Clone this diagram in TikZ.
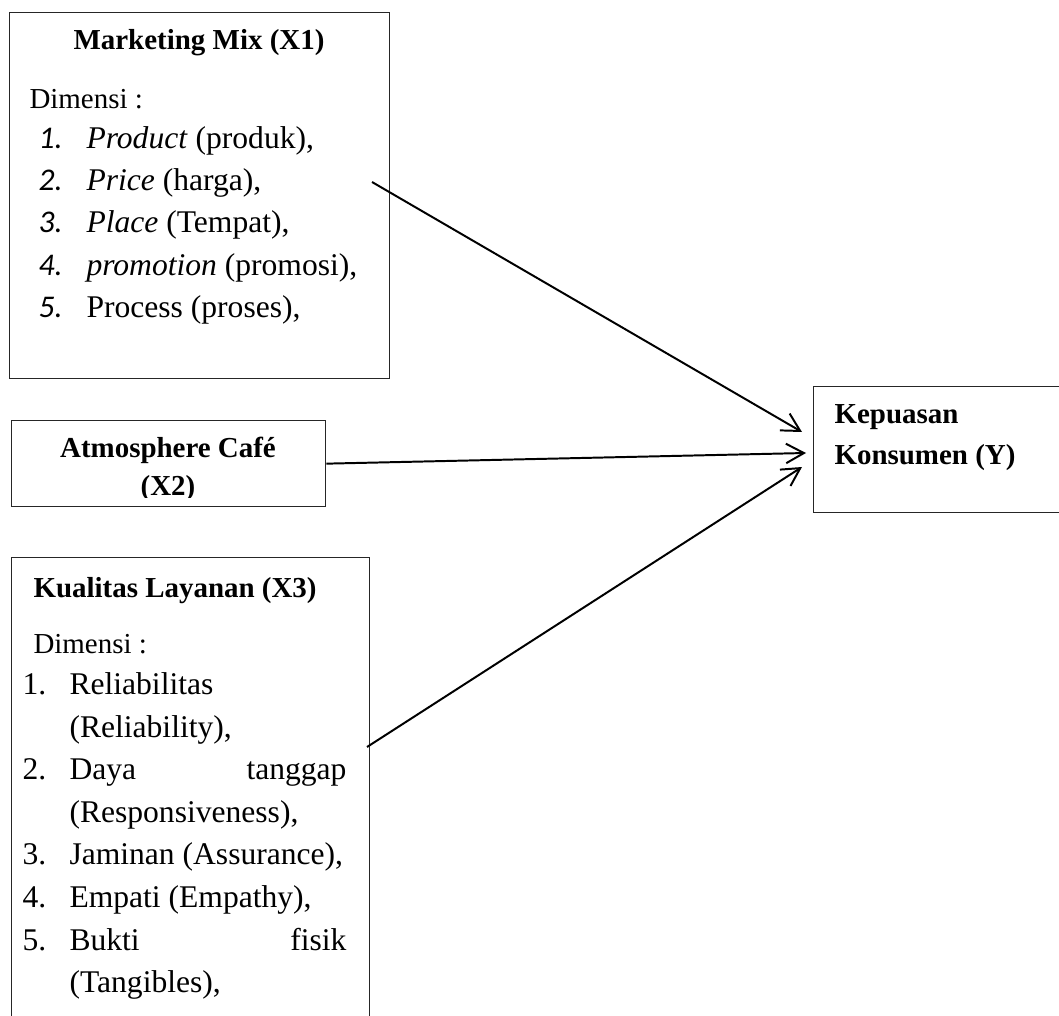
\documentclass[tikz,border=0pt]{standalone}
\usepackage{fontspec}
\setmainfont{Liberation Serif}
\newfontfamily\numfont{Carlito}
\usetikzlibrary{arrows.meta}

\tikzset{
  box/.style={draw=black!85,line width=0.5pt,anchor=north west,inner sep=0pt},
  ttl/.style={inner sep=0pt,font=\fontsize{11}{13}\selectfont\bfseries},
  txt/.style={inner sep=0pt,font=\fontsize{12}{14}\selectfont},
  dim/.style={inner sep=0pt,font=\fontsize{11}{13}\selectfont},
  arr/.style={line width=0.75pt,-{Straight Barb[length=6.8pt,width=7.4pt]}}
}

\begin{document}
\begin{tikzpicture}[x=0.38pt,y=0.38pt,yscale=-1]
\useasboundingbox (0,0) rectangle (1059,1016);

%Shape: Rectangle
\node [box,minimum width=144.4pt,minimum height=139.08pt] (mm) at (9,12) {};
%Shape: Rectangle
\node [box,minimum width=119.32pt,minimum height=32.68pt] (atmo) at (11,420) {};
%Shape: Rectangle
\node [box,minimum width=136.04pt,minimum height=179.74pt] (ku) at (11,557) {};
%Shape: Rectangle
\node [box,minimum width=97.66pt,minimum height=47.88pt] (kp) at (813,386) {};

% Text Node
\node [ttl,anchor=base] (mmT) at (199,50) {Marketing Mix (X1)};
% Text Node
\node [dim,anchor=base west] (mmD) at (29,109) {Dimensi :};
% Text Node
\node [txt,anchor=base west] (mmN1) at (38,149) {\numfont\itshape 1.};
\node [txt,anchor=base west] (mm1) at (86,149) {\textit{Product} (produk),};
% Text Node
\node [txt,anchor=base west] (mmN2) at (38,191) {\numfont\itshape 2.};
\node [txt,anchor=base west] (mm2) at (86,191) {\textit{Price} (harga),};
% Text Node
\node [txt,anchor=base west] (mmN3) at (38,233) {\numfont\itshape 3.};
\node [txt,anchor=base west] (mm3) at (86,233) {\textit{Place} (Tempat),};
% Text Node
\node [txt,anchor=base west] (mmN4) at (38,276) {\numfont\itshape 4.};
\node [txt,anchor=base west] (mm4) at (86,276) {\textit{promotion} (promosi),};
% Text Node
\node [txt,anchor=base west] (mmN5) at (38,318) {\numfont\itshape 5.};
\node [txt,anchor=base west] (mm5) at (86,318) {Process (proses),};

% Text Node
\begin{scope}
\clip (11,420) rectangle (325,497);
\node [ttl,anchor=base] (atT1) at (168,458) {Atmosphere Café};
\node [ttl,anchor=base] (atT2) at (168,495) {(X2)};
\end{scope}

% Text Node
\node [ttl,anchor=base west] (kuT) at (33,597) {Kualitas Layanan (X3)};
% Text Node
\node [dim,anchor=base west] (kuD) at (33,653) {Dimensi :};
% Text Node
\node [txt,anchor=base west] (kuN1) at (22,694) {1.};
\node [txt,anchor=base west] (ku1) at (69,694) {Reliabilitas};
\node [txt,anchor=base west] (ku1b) at (69,737) {(Reliability),};
% Text Node
\node [txt,anchor=base west] (kuN2) at (22,779) {2.};
\node [txt,anchor=base west] (ku2) at (69,779) {Daya};
\node [txt,anchor=base east] (ku2r) at (347,779) {tanggap};
\node [txt,anchor=base west] (ku2b) at (69,822) {(Responsiveness),};
% Text Node
\node [txt,anchor=base west] (kuN3) at (22,864) {3.};
\node [txt,anchor=base west] (ku3) at (69,864) {Jaminan (Assurance),};
% Text Node
\node [txt,anchor=base west] (kuN4) at (22,907) {4.};
\node [txt,anchor=base west] (ku4) at (69,907) {Empati (Empathy),};
% Text Node
\node [txt,anchor=base west] (kuN5) at (22,950) {5.};
\node [txt,anchor=base west] (ku5) at (69,950) {Bukti};
\node [txt,anchor=base east] (ku5r) at (347,950) {fisik};
\node [txt,anchor=base west] (ku5b) at (69,992) {(Tangibles),};

% Text Node
\node [ttl,anchor=base west] (kpT1) at (834,423) {Kepuasan};
\node [ttl,anchor=base west] (kpT2) at (834,464) {Konsumen (Y)};

%Straight Lines
\coordinate (mmOut) at (372,182);
\coordinate (kuOut) at (367,747);
\coordinate (kpIn1) at (802,432);
\coordinate (kpIn2) at (806,453);
\coordinate (kpIn3) at (802,467);
\draw [arr] (mmOut) -- (kpIn1);
\draw [arr] (atmo.east) -- (kpIn2);
\draw [arr] (kuOut) -- (kpIn3);

\end{tikzpicture}
\end{document}
